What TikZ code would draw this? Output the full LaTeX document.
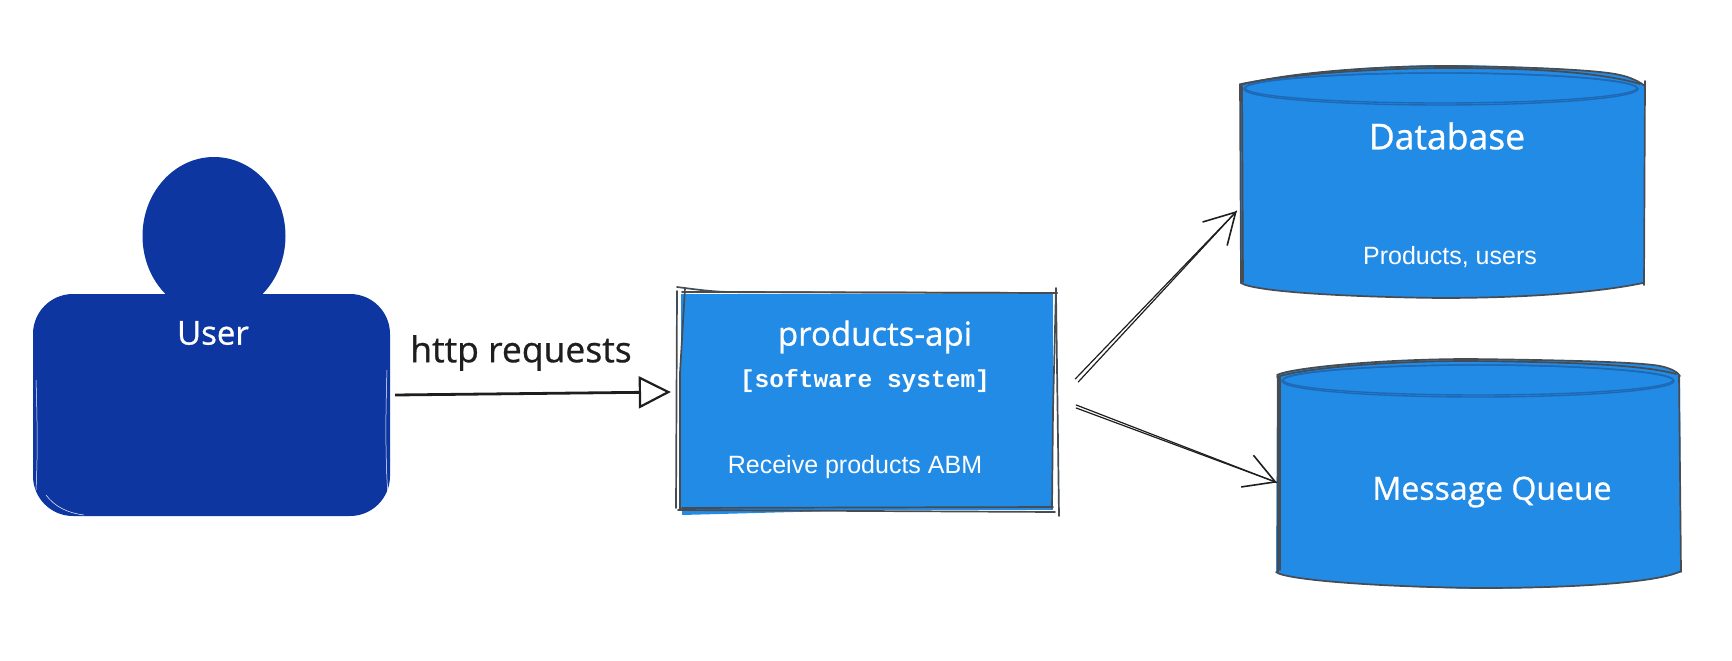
\documentclass[tikz,border=0pt]{standalone}
\usepackage{fontspec}
\usetikzlibrary{arrows.meta,shapes.geometric}
\newfontfamily\handfont[FakeBold=0.8]{Open Sans}
\newfontfamily\bodyfont{Liberation Sans}
\newfontfamily\codefont{Liberation Mono}
\definecolor{userblue}{HTML}{0D36A1}
\definecolor{boxblue}{HTML}{228BE6}
\definecolor{rimblue}{HTML}{1F68B4}
\definecolor{sketchgrey}{HTML}{464C52}
\definecolor{inkblack}{HTML}{1E1E1E}
\begin{document}
\begin{tikzpicture}[x=1pt,y=-1pt]
	\tikzstyle{every node}+=[inner sep=0pt]
	\tikzstyle{person}=[fill=userblue]
	\tikzstyle{boxfill}=[fill=boxblue,rectangle,minimum width=372pt,minimum height=216pt]
	\tikzstyle{drum}=[rectangle,minimum width=404pt]
	\tikzstyle{sketch}=[sketchgrey,line width=1.7pt,line cap=round]
	\tikzstyle{rim}=[rimblue,line width=1.4pt]
	\tikzstyle{hand}=[font=\handfont\fontsize{33}{36}\selectfont,text=white]
	\tikzstyle{handwide}=[font=\handfont\fontsize{35.5}{38}\selectfont]
	\tikzstyle{body}=[font=\bodyfont\fontsize{25}{28}\selectfont,text=white]
	\tikzstyle{openline}=[inkblack,line width=2.8pt,-{Triangle[open,fill=white,length=32pt,width=32pt,line width=2.2pt]}]
	\tikzstyle{barbline}=[inkblack,line width=1.2pt,line cap=round,-{Straight Barb[length=30pt,width=34pt,line width=1.6pt]}]
	\useasboundingbox (0,0) rectangle (1732,661);
	% user
	\node [person,ellipse,minimum width=143pt,minimum height=158pt] (head) at (214,236) {};
	\node [person,rectangle,rounded corners=40pt,minimum width=357pt,minimum height=222pt] (user) at (211.5,405) {};
	\draw [white,line width=0.5pt] (36,380) .. controls (38,440) and (37,470) .. (36,490);
	\draw [white,line width=0.5pt] (387,370) .. controls (385,430) and (386,470) .. (388,495);
	\draw [white,line width=0.5pt] (46,495) .. controls (55,507) and (68,513) .. (84,515);
	\node [hand] (usertext) at (213,333) {User};
	% products-api
	\node [boxfill] (api) at (867,402) {};
	\fill [boxblue] (682,505) -- (1052,505) -- (682,515) -- cycle;
	\draw [sketch] (677,287) .. controls (700,290) and (715,292) .. (733,292) -- (1057,293);
	\draw [sketch] (682,292) -- (1057,293);
	\draw [sketch] (677,291) -- (676,508);
	\draw [sketch] (685,288) -- (680,373) -- (680,510);
	\draw [sketch] (678,510) -- (1055,512);
	\draw [sketch] (682,508) -- (1053,507);
	\draw [sketch] (1056,288) -- (1053,410) -- (1052,508);
	\draw [sketch] (1056,293) -- (1059,516);
	\node [hand] (apiname) at (875,337) {products-api};
	\node [font=\codefont\bfseries\fontsize{24.5}{28}\selectfont,text=white] (apitype) at (865,381) {[software system]};
	\node [body] (apitext) at (855,467) {Receive products ABM};
	% database
	\node [drum,minimum height=232pt] (db) at (1442,182) {};
	\fill [boxblue] (1240,85) .. controls (1290,72) and (1380,65) .. (1450,65) .. controls (1530,66) and (1600,70) .. (1620,75) .. controls (1630,77) and (1640,82) .. (1645,86) -- (1644,283) .. controls (1600,292) and (1530,298) .. (1440,298) .. controls (1350,297) and (1255,292) .. (1241,283) -- cycle;
	\draw [sketch] (1240,85) .. controls (1290,72) and (1380,66) .. (1450,66) .. controls (1530,67) and (1600,70) .. (1620,75) .. controls (1630,77) and (1640,82) .. (1645,86);
	\draw [sketch] (1241,84) .. controls (1290,74) and (1380,68) .. (1450,68) .. controls (1530,68) and (1600,72) .. (1640,84);
	\draw [sketch] (1240,84) -- (1241,283);
	\draw [sketch] (1242,86) -- (1243,282);
	\draw [sketch] (1645,81) -- (1644,285);
	\draw [sketch] (1241,283) .. controls (1255,292) and (1350,297) .. (1440,298) .. controls (1530,298) and (1600,292) .. (1643,283);
	\draw [rim] (1441,89) ellipse [x radius=197pt,y radius=16pt];
	\draw [rim] (1441,88) ellipse [x radius=196pt,y radius=15pt];
	\node [hand,handwide] (dbname) at (1447,136) {Database};
	\node [body] (dbtext) at (1450,257) {Products, users};
	% message queue
	\node [drum,minimum height=229pt] (mq) at (1478,473.5) {};
	\fill [boxblue] (1277,375) .. controls (1290,368) and (1380,359) .. (1470,359) .. controls (1560,360) and (1640,362) .. (1660,366) .. controls (1670,368) and (1678,372) .. (1680,376) -- (1681,572) .. controls (1660,582) and (1580,588) .. (1480,589) .. controls (1380,587) and (1285,580) .. (1276,572) -- cycle;
	\draw [sketch] (1277,375) .. controls (1290,368) and (1380,359) .. (1470,359) .. controls (1560,360) and (1640,362) .. (1660,366) .. controls (1670,368) and (1678,372) .. (1680,376);
	\draw [sketch] (1277,377) .. controls (1300,369) and (1380,361) .. (1470,361) .. controls (1560,362) and (1640,364) .. (1676,374);
	\draw [sketch] (1278,375) -- (1278,572);
	\draw [sketch] (1280,377) -- (1280,570);
	\draw [sketch] (1679,375) -- (1681,572);
	\draw [sketch] (1276,572) .. controls (1285,580) and (1380,587) .. (1480,588) .. controls (1580,588) and (1660,582) .. (1681,571);
	\draw [rim] (1478,381) ellipse [x radius=196pt,y radius=16pt];
	\draw [rim] (1478,380) ellipse [x radius=195pt,y radius=15pt];
	\node [hand,font=\handfont\fontsize{32}{36}\selectfont] (mqname) at (1492,492) {Message Queue};
	% connectors
	\draw [openline] ([shift={(5pt,10pt)}]user.east) -- ([shift={(-10pt,10pt)}]api.west);
	\node [hand,handwide,text=inkblack] (httptext) at (521,353) {http requests};
	\draw [barbline] ([shift={(22pt,23pt)}]api.east) -- ([shift={(-3pt,-29pt)}]db.west);
	\draw [inkblack,line width=1.2pt,line cap=round] ([shift={(25pt,20pt)}]api.east) -- ([shift={(-3pt,-29pt)}]db.west);
	\draw [barbline] ([shift={(23pt,-3pt)}]api.east) -- ([shift={(1pt,-9pt)}]mq.west);
	\draw [inkblack,line width=1.2pt,line cap=round] ([shift={(23pt,-6pt)}]api.east) -- ([shift={(1pt,-9pt)}]mq.west);
\end{tikzpicture}
\end{document}
